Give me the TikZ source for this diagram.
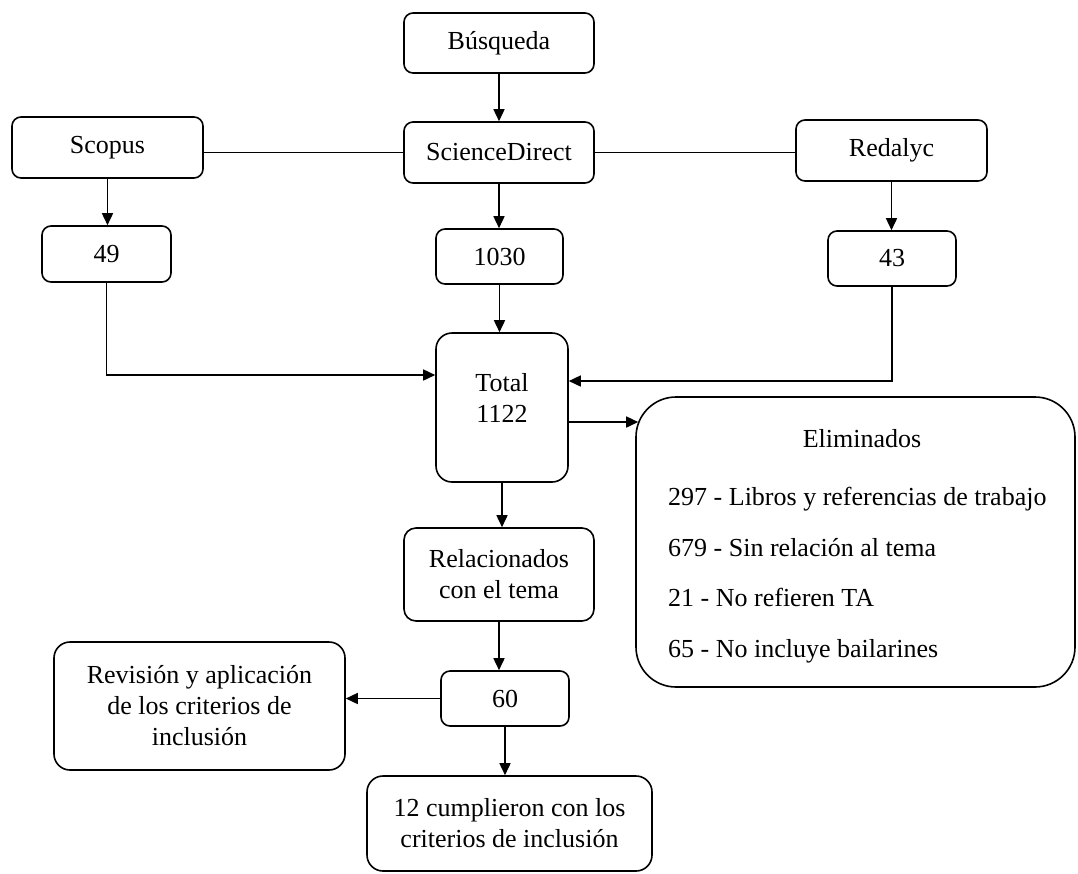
\documentclass[tikz,border=0pt]{standalone}
\usepackage{fontspec}
\setmainfont{Liberation Serif}
\usetikzlibrary{arrows.meta,calc}
\begin{document}
\begin{tikzpicture}[x=1pt,y=-1pt,
  bx/.style={draw, rounded corners=9pt, line width=1.6pt, align=center, inner sep=0pt, font=\fontsize{26}{31}\selectfont},
  txt/.style={inner sep=0pt, align=center, font=\fontsize{26}{31}\selectfont},
  arr/.style={line width=1.6pt, -{Triangle[length=12pt,width=11pt]}},
  ln/.style={line width=1.6pt}]
\useasboundingbox[fill=white] (0,0) rectangle (1078,873);
% nodes
\node[bx, minimum width=190pt, minimum height=60pt] (busq) at (499,43) {Búsqueda};
\node[bx, minimum width=190pt, minimum height=61pt] (sd) at (499,152.5) {ScienceDirect};
\node[bx, minimum width=191pt, minimum height=61pt] (scopus) at (107.5,147.5) {Scopus};
\node[bx, minimum width=191pt, minimum height=61pt] (redalyc) at (891.5,150.5) {Redalyc};
\node[bx, minimum width=129pt, minimum height=56pt] (n49) at (106.5,254) {49};
\node[bx, minimum width=127pt, minimum height=55pt] (n1030) at (499.5,256.5) {1030};
\node[bx, minimum width=128pt, minimum height=55pt] (n43) at (892,258.5) {43};
\node[bx, rounded corners=16pt, minimum width=132pt, minimum height=149pt] (total) at (502,407.5) {};
\node[txt] (totalt) at (502,397.5) {Total\\1122};
\node[bx, rounded corners=40pt, minimum width=439pt, minimum height=290pt] (elim) at (855.5,542) {};
\node[txt, anchor=base] (elimt) at (862,447) {Eliminados};
\node[txt, anchor=base west] (e1) at (668,505) {297 - Libros y referencias de trabajo};
\node[txt, anchor=base west] (e2) at (668,556) {679 - Sin relación al tema};
\node[txt, anchor=base west] (e3) at (668,606) {21 - No refieren TA};
\node[txt, anchor=base west] (e4) at (668,657) {65 - No incluye bailarines};
\node[bx, rounded corners=12pt, minimum width=190pt, minimum height=93pt] (rel) at (499,574.5) {Relacionados\\con el tema};
\node[bx, minimum width=128pt, minimum height=55pt] (n60) at (505,698.5) {60};
\node[bx, rounded corners=16pt, minimum width=291pt, minimum height=128pt] (rev) at (199.5,706) {Revisión y aplicación\\de los criterios de\\inclusión};
\node[bx, rounded corners=16pt, minimum width=285pt, minimum height=95pt] (n12) at (509.5,823.5) {12 cumplieron con los\\criterios de inclusión};
% connectors
\draw[arr] (busq.south) -- (sd.north);
\draw[ln] (scopus.east |- sd.east) -- (sd.west);
\draw[ln] (sd.east) -- (sd.east -| redalyc.west);
\draw[arr] (scopus.south) -- (scopus.south |- n49.north);
\draw[arr] (sd.south) -- (sd.south |- n1030.north);
\draw[arr] (redalyc.south) -- (redalyc.south |- n43.north);
\draw[arr] (n1030.south) -- (n1030.south |- total.north);
\draw[arr] (n49.south) |- ([yshift=32.5pt]total.west);
\draw[arr] (n43.south) |- ([yshift=26.5pt]total.east);
\draw[arr] ([yshift=-14.5pt]total.east) -- ([yshift=-14.5pt,xshift=3pt]total.east -| elim.west);
\draw[arr] (total.south) -- (total.south |- rel.north);
\draw[arr] (rel.south) -- (rel.south |- n60.north);
\draw[arr] (n60.west) -- (n60.west -| rev.east);
\draw[arr] (n60.south) -- (n60.south |- n12.north);
\end{tikzpicture}
\end{document}
